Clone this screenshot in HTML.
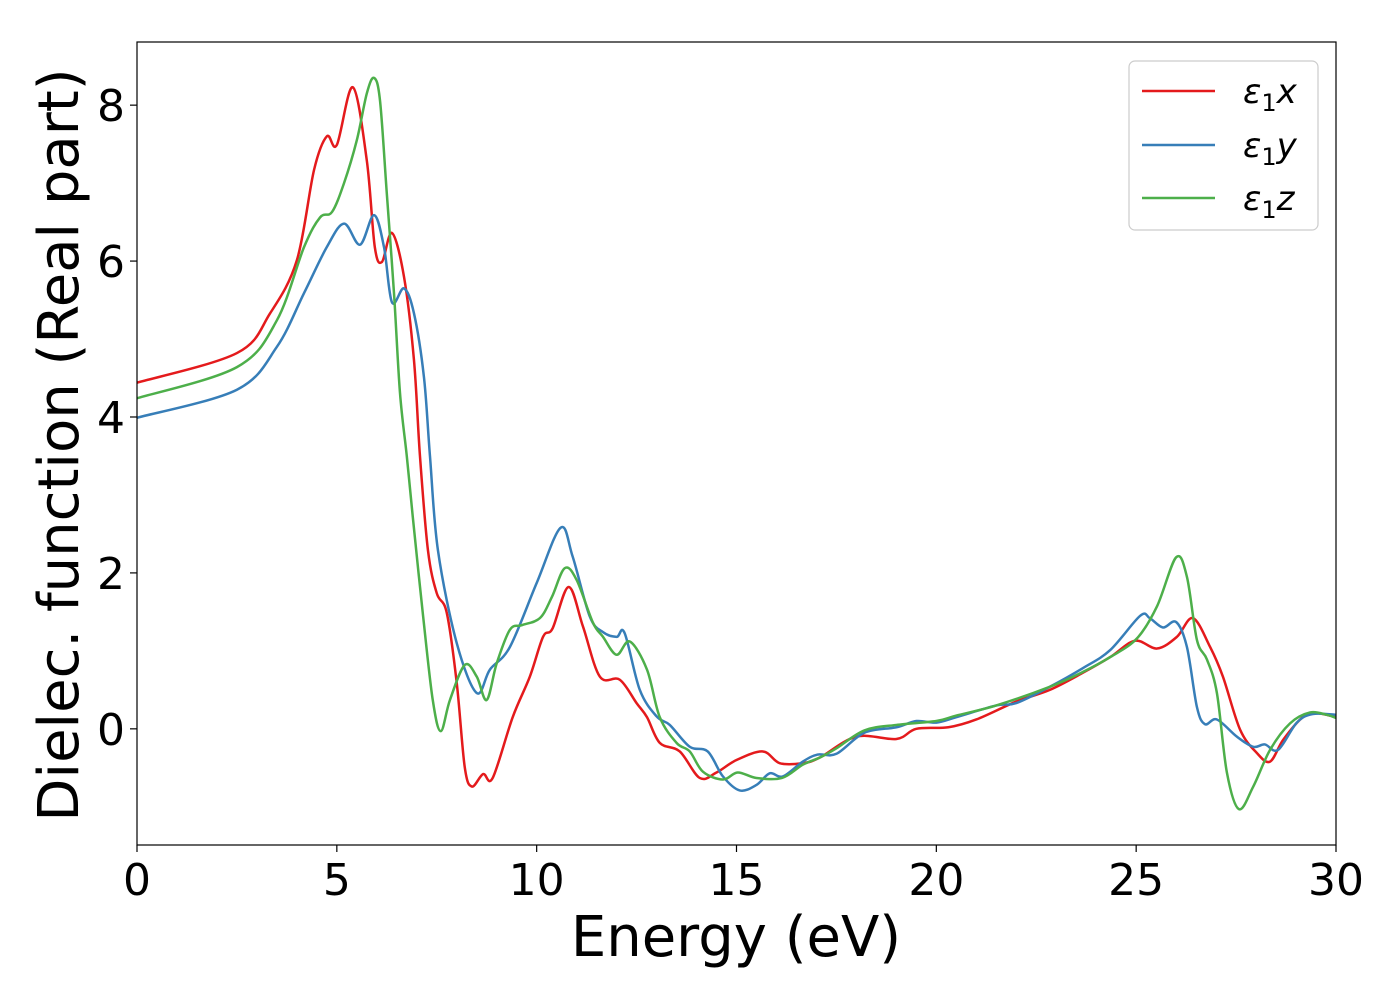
<!DOCTYPE html>
<html><head><meta charset="utf-8"><style>
html,body{margin:0;padding:0;background:#fff;}
svg{display:block;font-family:"DejaVu Sans","Liberation Sans",sans-serif;}
</style></head><body>
<svg id="chart" width="1400" height="1000" viewBox="0 0 1400 1000">
<g id="plot"></g>
<rect x="137" y="42" width="1199" height="803" fill="none" stroke="#000" stroke-width="1.2"/>
<g id="axes"></g>
<text x="736" y="956" font-size="56" text-anchor="middle">Energy (eV)</text>
<text transform="translate(78,445) rotate(-90)" font-size="56" text-anchor="middle">Dielec. function (Real part)</text>
<g>
<rect x="1129" y="61" width="189" height="169" rx="6" fill="#fff" stroke="#ccc" stroke-width="1.2"/>
<g><line x1="1142" y1="91" x2="1215" y2="91" stroke="#e41a1c" stroke-width="2.5"/><text x="1243" y="103" font-size="34" font-style="italic">ε<tspan font-size="24" dy="8" font-style="normal">1</tspan><tspan dy="-8">x</tspan></text></g>
<g><line x1="1142" y1="145" x2="1215" y2="145" stroke="#377eb8" stroke-width="2.5"/><text x="1243" y="157" font-size="34" font-style="italic">ε<tspan font-size="24" dy="8" font-style="normal">1</tspan><tspan dy="-8">y</tspan></text></g>
<g><line x1="1142" y1="198" x2="1215" y2="198" stroke="#4daf4a" stroke-width="2.5"/><text x="1243" y="210" font-size="34" font-style="italic">ε<tspan font-size="24" dy="8" font-style="normal">1</tspan><tspan dy="-8">z</tspan></text></g>
</g>
</svg>
<script>
const xTicks=[0,5,10,15,20,25,30];
const yTicks=[0,2,4,6,8];
const seriesNames=["eps1x","eps1y","eps1z"];
const seriesColors=["#e41a1c","#377eb8","#4daf4a"];
const epsX=[[0,4.44],[2.5,4.82],[3.33,5.33],[4.0,6.01],[4.43,7.17],[4.75,7.60],[5.0,7.49],[5.4,8.23],[5.75,7.29],[5.95,6.18],[6.13,5.99],[6.38,6.36],[6.68,5.80],[6.93,4.73],[7.08,3.5],[7.28,2.29],[7.5,1.74],[7.75,1.49],[8.0,0.59],[8.2,-0.49],[8.38,-0.74],[8.66,-0.58],[8.9,-0.63],[9.4,0.15],[9.83,0.67],[10.16,1.18],[10.4,1.29],[10.8,1.82],[11.16,1.31],[11.58,0.67],[12.08,0.63],[12.5,0.33],[12.76,0.15],[13.08,-0.18],[13.58,-0.29],[14.08,-0.63],[14.5,-0.56],[15.0,-0.40],[15.66,-0.29],[16.08,-0.44],[16.66,-0.44],[17.08,-0.37],[18.0,-0.1],[19.0,-0.13],[19.5,0.0],[20.3,0.02],[21.0,0.12],[22.0,0.35],[22.84,0.5],[23.67,0.72],[24.35,0.92],[24.97,1.13],[25.52,1.03],[26.02,1.18],[26.42,1.42],[26.85,1.05],[27.17,0.67],[27.6,-0.01],[28.02,-0.31],[28.35,-0.42],[28.68,-0.14],[29.17,0.15],[29.52,0.2],[30,0.15]];
const epsY=[[0,3.99],[2.5,4.35],[3.5,4.9],[4.18,5.59],[4.75,6.18],[5.18,6.48],[5.58,6.21],[5.93,6.59],[6.18,6.18],[6.38,5.47],[6.68,5.65],[6.93,5.33],[7.18,4.51],[7.33,3.5],[7.53,2.29],[8.0,1.1],[8.5,0.46],[8.83,0.76],[9.33,1.05],[10.0,1.87],[10.6,2.58],[10.9,2.21],[11.33,1.44],[11.66,1.24],[12.0,1.18],[12.2,1.23],[12.58,0.5],[13.0,0.16],[13.33,0.05],[13.83,-0.23],[14.28,-0.29],[14.66,-0.61],[15.08,-0.79],[15.5,-0.72],[15.83,-0.57],[16.16,-0.61],[16.66,-0.42],[17.03,-0.33],[17.5,-0.32],[18.2,-0.05],[19.0,0.02],[19.5,0.1],[20.0,0.08],[20.5,0.15],[21.5,0.3],[22.0,0.33],[22.84,0.54],[23.67,0.78],[24.35,1.01],[25.1,1.45],[25.34,1.42],[25.67,1.3],[26.0,1.37],[26.27,1.05],[26.52,0.28],[26.72,0.06],[27.02,0.12],[27.52,-0.1],[27.93,-0.23],[28.22,-0.2],[28.55,-0.27],[29.02,0.08],[29.42,0.19],[30,0.18]];
const epsZ=[[0,4.24],[2.5,4.64],[3.5,5.24],[4.18,6.18],[4.58,6.56],[4.88,6.63],[5.18,7.0],[5.5,7.55],[5.75,8.15],[5.93,8.35],[6.08,8.06],[6.25,6.87],[6.43,5.59],[6.58,4.31],[6.75,3.5],[6.9,2.72],[7.16,1.44],[7.4,0.37],[7.6,-0.03],[7.83,0.37],[8.2,0.82],[8.5,0.67],[8.75,0.37],[9.0,0.84],[9.33,1.27],[9.63,1.33],[10.08,1.42],[10.38,1.69],[10.7,2.06],[11.0,1.91],[11.41,1.36],[11.66,1.18],[12.0,0.95],[12.33,1.12],[12.76,0.76],[13.08,0.15],[13.5,-0.18],[13.83,-0.29],[14.16,-0.55],[14.66,-0.65],[15.03,-0.56],[15.5,-0.63],[16.14,-0.63],[16.66,-0.46],[17.08,-0.37],[17.5,-0.25],[18.2,-0.02],[19.0,0.05],[20.0,0.1],[20.5,0.17],[21.5,0.3],[22.84,0.54],[23.67,0.73],[24.35,0.92],[25.02,1.16],[25.52,1.57],[26.0,2.2],[26.27,1.95],[26.52,1.14],[26.77,0.89],[27.02,0.46],[27.27,-0.56],[27.57,-1.03],[27.93,-0.74],[28.35,-0.27],[28.85,0.07],[29.35,0.21],[29.77,0.18],[30,0.14]];
const allSeries=[epsX,epsY,epsZ];
const X0=137,X1=1336,Y0=845,Y1=42,xMin=0,xMax=30,yMin=-1.49,yMax=8.81;
function sx(v){return X0+(v-xMin)/(xMax-xMin)*(X1-X0);}
function sy(v){return Y0-(v-yMin)/(yMax-yMin)*(Y0-Y1);}
const NS="http://www.w3.org/2000/svg";
function pathFor(d){
  const p=d.map(q=>[sx(q[0]),sy(q[1])]);
  let s="M"+p[0][0].toFixed(2)+","+p[0][1].toFixed(2);
  for(let i=0;i<p.length-1;i++){
    const a=p[Math.max(0,i-1)],b=p[i],c=p[i+1],e=p[Math.min(p.length-1,i+2)];
    const c1x=b[0]+(c[0]-a[0])/6,c1y=b[1]+(c[1]-a[1])/6;
    const c2x=c[0]-(e[0]-b[0])/6,c2y=c[1]-(e[1]-b[1])/6;
    s+=" C"+c1x.toFixed(2)+","+c1y.toFixed(2)+" "+c2x.toFixed(2)+","+c2y.toFixed(2)+" "+c[0].toFixed(2)+","+c[1].toFixed(2);
  }
  return s;
}
const plot=document.getElementById("plot");
const clip=document.createElementNS(NS,"clipPath");clip.setAttribute("id","clp");
const cr=document.createElementNS(NS,"rect");cr.setAttribute("x",X0);cr.setAttribute("y",Y1);cr.setAttribute("width",X1-X0);cr.setAttribute("height",Y0-Y1);
clip.appendChild(cr);document.getElementById("chart").appendChild(clip);
plot.setAttribute("clip-path","url(#clp)");
allSeries.forEach((d,i)=>{
  const el=document.createElementNS(NS,"path");
  el.setAttribute("d",pathFor(d));
  el.setAttribute("fill","none");
  el.setAttribute("stroke",seriesColors[i]);
  el.setAttribute("stroke-width","2.5");
  
  
  plot.appendChild(el);
});
const axes=document.getElementById("axes");
xTicks.forEach(t=>{
  const l=document.createElementNS(NS,"line");
  l.setAttribute("x1",sx(t));l.setAttribute("x2",sx(t));l.setAttribute("y1",Y0);l.setAttribute("y2",Y0+7);l.setAttribute("stroke","#000");l.setAttribute("stroke-width","1.2");
  
  
  axes.appendChild(l);
  const tx=document.createElementNS(NS,"text");
  tx.setAttribute("x",sx(t));tx.setAttribute("y",Y0+50);tx.setAttribute("font-size","44");tx.setAttribute("text-anchor","middle");
  tx.textContent=t;
  
  
  axes.appendChild(tx);
});
yTicks.forEach(t=>{
  const l=document.createElementNS(NS,"line");
  l.setAttribute("x1",X0-7);l.setAttribute("x2",X0);l.setAttribute("y1",sy(t));l.setAttribute("y2",sy(t));l.setAttribute("stroke","#000");l.setAttribute("stroke-width","1.2");
  
  
  axes.appendChild(l);
  const tx=document.createElementNS(NS,"text");
  tx.setAttribute("x",X0-12);tx.setAttribute("y",sy(t)+16);tx.setAttribute("font-size","44");tx.setAttribute("text-anchor","end");
  tx.textContent=t;
  
  
  axes.appendChild(tx);
});
</script>
</body></html>
